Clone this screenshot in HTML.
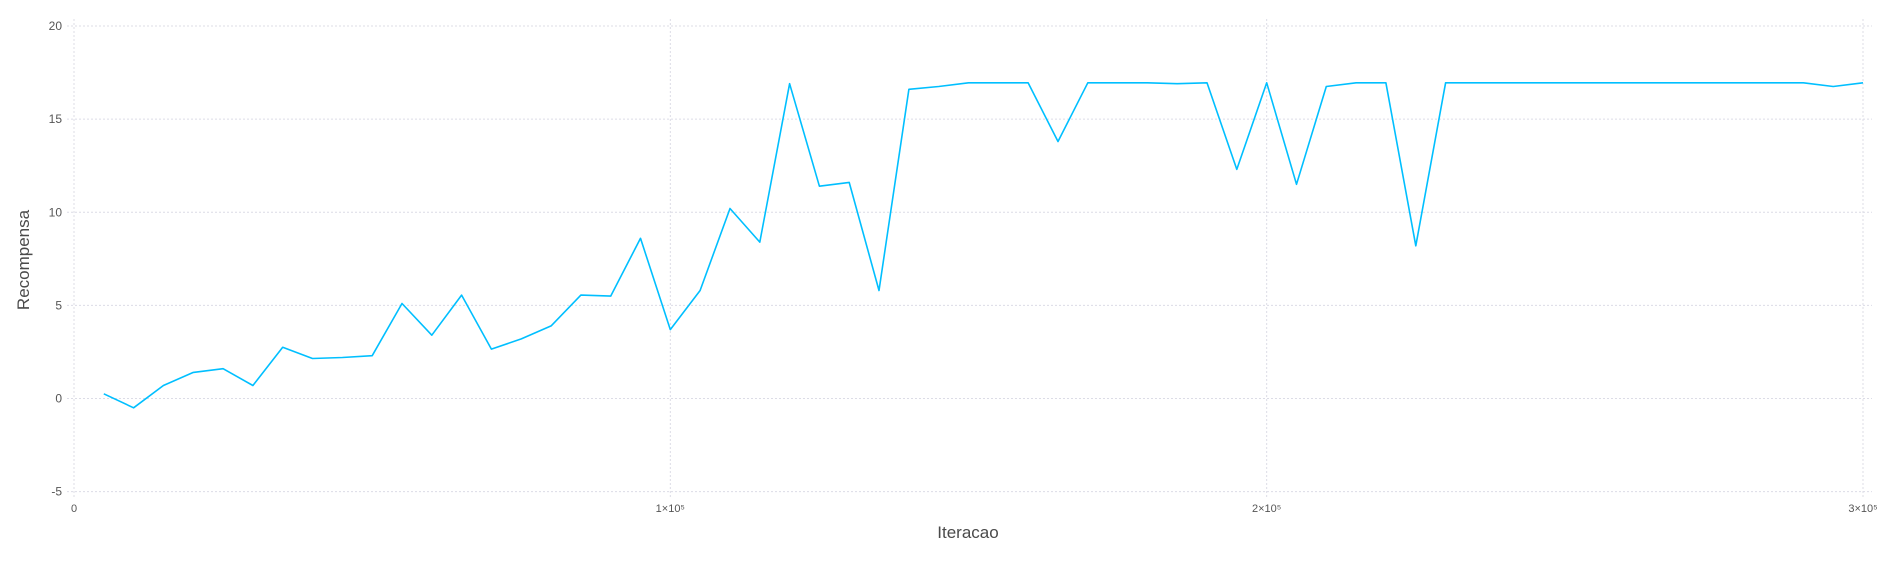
<!DOCTYPE html>
<html><head><meta charset="utf-8"><style>
html,body{margin:0;padding:0;background:#fff;}
svg{display:block;font-family:"Liberation Sans",sans-serif;}
</style></head><body>
<svg id="chart" width="1890" height="567" xmlns="http://www.w3.org/2000/svg">
<g id="grid"></g>
<g id="yticks"></g>
<g id="xticks"></g>
<path id="line" fill="none" stroke="#00bfff" stroke-width="1.6" stroke-linejoin="round"></path>
<text x="968" y="538" font-size="17" fill="#4a4a4a" text-anchor="middle">Iteracao</text>
<text x="0" y="0" font-size="17" fill="#4a4a4a" text-anchor="middle" transform="translate(29,260) rotate(-90)">Recompensa</text>
</svg>
<script>
const steps = [];
for (let i = 1; i <= 60; i++) steps.push(i * 5000);
const rewards = [0.25,-0.5,0.7,1.4,1.6,0.7,2.75,2.15,2.2,2.3,
5.1,3.4,5.55,2.65,3.2,3.9,5.55,5.5,8.6,3.7,
5.8,10.2,8.4,16.9,11.4,11.6,5.8,16.6,16.75,16.95,
16.95,16.95,13.8,16.95,16.95,16.95,16.9,16.95,12.3,16.95,
11.5,16.75,16.95,16.95,8.2,16.95,16.95,16.95,16.95,16.95,
16.95,16.95,16.95,16.95,16.95,16.95,16.95,16.95,16.75,16.95];
const yTicks = [-5,0,5,10,15,20];
const xTicks = [0,100000,200000,300000];
const xTickLabels = ["0","1×10⁵","2×10⁵","3×10⁵"];

const X0=74, X1=1863, Y20=26, Y0=398.5;
function sx(v){return X0+(X1-X0)*v/300000;}
function sy(v){return Y0-(Y0-Y20)*v/20;}
const NS="http://www.w3.org/2000/svg";
const grid=document.getElementById('grid');
const yg=document.getElementById('yticks');
const xg=document.getElementById('xticks');
yTicks.forEach(t=>{
  const l=document.createElementNS(NS,'line');
  
  
  l.setAttribute('x1',67);l.setAttribute('x2',1872);
  l.setAttribute('y1',sy(t));l.setAttribute('y2',sy(t));
  l.setAttribute('stroke','#dcdce6');l.setAttribute('stroke-dasharray','2,2');
  grid.appendChild(l);
  const tx=document.createElementNS(NS,'text');
  
  
  tx.setAttribute('x',62);tx.setAttribute('y',sy(t)+4);
  tx.setAttribute('text-anchor','end');tx.setAttribute('font-size','12');tx.setAttribute('fill','#555');
  tx.textContent=t;yg.appendChild(tx);
});
xTicks.forEach((t,i)=>{
  const l=document.createElementNS(NS,'line');
  
  
  l.setAttribute('x1',sx(t));l.setAttribute('x2',sx(t));
  l.setAttribute('y1',19);l.setAttribute('y2',498);
  l.setAttribute('stroke','#dcdce6');l.setAttribute('stroke-dasharray','2,2');
  grid.appendChild(l);
  const tx=document.createElementNS(NS,'text');
  
  
  tx.setAttribute('x',sx(t));tx.setAttribute('y',512);
  tx.setAttribute('text-anchor','middle');tx.setAttribute('font-size','11');tx.setAttribute('fill','#555');
  tx.textContent=xTickLabels[i];xg.appendChild(tx);
});
let d='';
steps.forEach((s,i)=>{d+=(i?'L':'M')+sx(s).toFixed(1)+','+sy(rewards[i]).toFixed(1);});
document.getElementById('line').setAttribute('d',d);
</script>
</body></html>
